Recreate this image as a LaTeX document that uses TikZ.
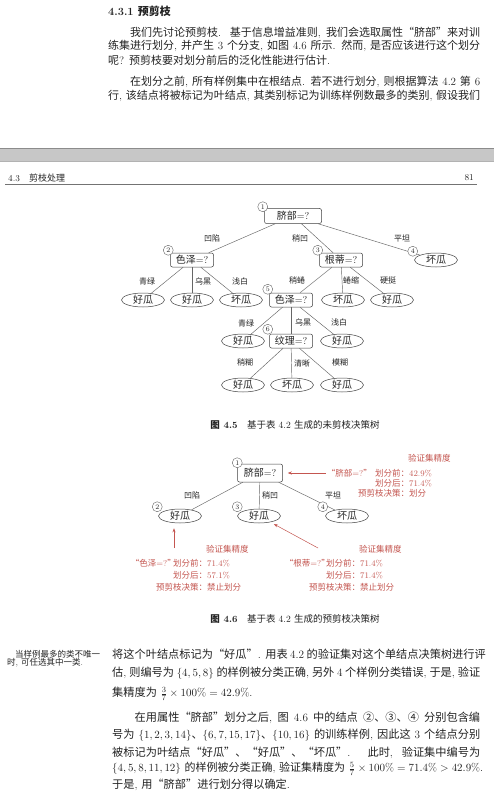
\documentclass[tikz,border=0pt]{standalone}
\usepackage{fontspec}
\usepackage{amsmath}
\usetikzlibrary{positioning}
\usetikzlibrary{shapes.geometric}
\usetikzlibrary{arrows.meta}
\usetikzlibrary{calc}

\newfontfamily\cjk{Noto Sans CJK SC}
% Chinese runs switch to the CJK font on their own
\XeTeXinterchartokenstate=1
\XeTeXlinebreaklocale "zh"
\XeTeXlinebreakskip=0pt plus 0.6pt minus 0.2pt
\newXeTeXintercharclass\cjkcls
\newcount\cjkc
\cjkc="4E00\relax
\loop\XeTeXcharclass\cjkc=\cjkcls\relax\ifnum\cjkc<"9FFF\relax\advance\cjkc by 1\relax\repeat
\cjkc="3000\relax
\loop\XeTeXcharclass\cjkc=\cjkcls\relax\ifnum\cjkc<"303F\relax\advance\cjkc by 1\relax\repeat
\cjkc="FF00\relax
\loop\XeTeXcharclass\cjkc=\cjkcls\relax\ifnum\cjkc<"FFEF\relax\advance\cjkc by 1\relax\repeat
\cjkc="2460\relax
\loop\XeTeXcharclass\cjkc=\cjkcls\relax\ifnum\cjkc<"2473\relax\advance\cjkc by 1\relax\repeat
\XeTeXcharclass"201C=\cjkcls
\XeTeXcharclass"201D=\cjkcls
\XeTeXinterchartoks 0 \cjkcls={\begingroup\cjk}
\XeTeXinterchartoks 4095 \cjkcls={\begingroup\cjk}
\XeTeXinterchartoks \cjkcls 0={\endgroup}
\XeTeXinterchartoks \cjkcls 4095={\endgroup}

\definecolor{ink}{RGB}{35,35,35}
\definecolor{notered}{RGB}{196,86,80}
\newcommand\jline[2]{\hbox to #1pt{#2}}
\newcommand\notelbl[1]{\makebox[51pt][r]{#1}}

\tikzset{
  body/.style={inner sep=0pt, font=\fontsize{11}{13}\selectfont},
  lowbody/.style={inner sep=0pt, font=\fontsize{11.2}{13}\selectfont},
  figcap/.style={inner sep=0pt, font=\fontsize{9.5}{11}\selectfont},
  test/.style={draw=black!75, rounded corners=2pt, line width=0.5pt, inner sep=1pt,
    minimum width=43pt, minimum height=14pt, font=\fontsize{10}{12}\selectfont},
  leaf/.style={ellipse, draw=black!75, line width=0.5pt, inner sep=0pt,
    minimum width=43pt, minimum height=14pt, font=\fontsize{10}{12}\selectfont},
  num/.style={circle, draw=black!60, fill=white, inner sep=0pt, minimum size=10pt,
    font=\fontsize{7}{8}\selectfont},
  branch/.style={draw=black!60, line width=0.45pt},
  lbl/.style={inner sep=0pt, font=\fontsize{8}{9}\selectfont},
  note/.style={text=notered, inner sep=0pt, font=\fontsize{8.5}{10}\selectfont},
  hint/.style={draw=notered, line width=0.5pt, -{Stealth[length=4pt,width=3pt]}},
}

\begin{document}
\begin{tikzpicture}[x=1pt, y=-1pt, every node/.style={text=ink}]
  \fill[white] (0,0) rectangle (494,810);
  \useasboundingbox (0,0) rectangle (494,810);

  % upper page
  \node[body, anchor=west] (head) at (108,11) {\bfseries 4.3.1\ 预剪枝};
  \node[body, anchor=west] (t1) at (130,33) {\jline{350}{我们先讨论预剪枝. 基于信息增益准则, 我们会选取属性“脐部”来对训}};
  \node[body, anchor=west] (t2) at (108,46) {\jline{372}{练集进行划分, 并产生 3 个分支, 如图 4.6 所示. 然而, 是否应该进行这个划分}};
  \node[body, anchor=west] (t3) at (108,60) {呢? 预剪枝要对划分前后的泛化性能进行估计.};
  \node[body, anchor=west] (t4) at (130,82) {\jline{350}{在划分之前, 所有样例集中在根结点. 若不进行划分, 则根据算法 4.2 第 6}};
  \node[body, anchor=west] (t5) at (108,96) {\jline{372}{行, 该结点将被标记为叶结点, 其类别标记为训练样例数最多的类别, 假设我们}};

  % gap between the pages
  \fill[black!22] (0,148) rectangle (494,162);
  \draw[black!45, line width=1pt] (0,148.5) -- (494,148.5);
  \draw[black!30, line width=0.6pt] (0,161.5) -- (494,161.5);

  % running head
  \node[inner sep=0pt, anchor=west, font=\fontsize{9}{10}\selectfont] (rh) at (8,178) {4.3\quad 剪枝处理};
  \node[inner sep=0pt, anchor=east, font=\fontsize{9}{10}\selectfont] (pg) at (474,178) {81};
  \draw[black!55, line width=0.6pt] (5,184) -- (477,184);

  % unpruned tree
  \node[test, minimum width=57pt, minimum height=15pt] (r1) at (293,216) {脐部=?};
  \node[test] (n2) at (192,260) {色泽=?};
  \node[test] (n3) at (341,260) {根蒂=?};
  \node[leaf] (n4) at (436,260) {坏瓜};
  \node[leaf] (l1) at (143,300) {好瓜};
  \node[leaf] (l2) at (192,300) {好瓜};
  \node[leaf] (l3) at (241,300) {坏瓜};
  \node[test] (n5) at (291,300) {色泽=?};
  \node[leaf] (l4) at (343,300) {坏瓜};
  \node[leaf] (l5) at (392,300) {好瓜};
  \node[leaf] (l6) at (243,341) {好瓜};
  \node[test] (n6) at (291,341) {纹理=?};
  \node[leaf] (l7) at (342,341) {好瓜};
  \node[leaf] (l8) at (243,385) {好瓜};
  \node[leaf] (l9) at (292,385) {坏瓜};
  \node[leaf] (l10) at (342,385) {好瓜};

  \foreach \a/\b in {r1/n2, r1/n3, r1/n4, n2/l1, n2/l2, n2/l3, n3/n5, n3/l4, n3/l5,
                     n5/l6, n5/n6, n5/l7, n6/l8, n6/l9, n6/l10}
    \draw[branch] (\a) -- (\b);

  \foreach \x/\y/\t [count=\i] in {212/238/凹陷, 300/238/稍凹, 402/238/平坦,
      147/281/青绿, 203/281/乌黑, 240/281/浅白, 297/280/稍蜷, 351/280/蜷缩, 388/280/硬挺,
      246/323/青绿, 303/322/乌黑, 339/322/浅白, 245/363/稍糊, 302/363/清晰, 340/363/模糊}
    \node[lbl] (b\i) at (\x,\y) {\t};

  \node[num] (c1) at ($(r1.west |- r1.north)+(-1.5,-1.5)$) {1};
  \node[num] (c2) at ($(n2.west |- n2.north)+(-2,-2.5)$) {2};
  \node[num] (c3) at ($(n3.west |- n3.north)+(-1.5,-2.5)$) {3};
  \node[num] (c4) at ($(n4.west |- n4.north)+(-1.5,-1.5)$) {4};
  \node[num] (c5) at ($(n5.west |- n5.north)+(-1.5,-3.5)$) {5};
  \node[num] (c6) at ($(n6.west |- n6.north)+(-1.5,-4.5)$) {6};

  \node[figcap] (cap1) at (295,425) {\textbf{图 4.5}\quad 基于表 4.2 生成的未剪枝决策树};

  % pre-pruned tree
  \node[test, minimum width=45pt, minimum height=18pt] (r2) at (260,473) {脐部=?};
  \node[leaf] (m2) at (180,516) {好瓜};
  \node[leaf] (m3) at (259,516) {好瓜};
  \node[leaf] (m4) at (347,516) {坏瓜};
  \foreach \b in {m2, m3, m4}
    \draw[branch] (r2) -- (\b);
  \node[lbl] (d1) at (192,495) {凹陷};
  \node[lbl] (d2) at (270,495) {稍凹};
  \node[lbl] (d3) at (333,495) {平坦};

  \node[num] (e1) at ($(r2.west |- r2.north)+(0,-1)$) {1};
  \node[num] (e2) at ($(m2.west |- m2.north)+(-1,-2)$) {2};
  \node[num] (e3) at ($(m3.west |- m3.north)+(0,-2)$) {3};
  \node[num] (e4) at ($(m4.west |- m4.north)+(-2.5,-2)$) {4};

  % validation notes
  \node[note, anchor=west] (acc1) at (408,458) {验证集精度};
  \node[note, anchor=north west, align=left] (tab1) at (358,469)
    {\notelbl{划分前：}42.9\%\\\notelbl{划分后：}71.4\%\\\notelbl{预剪枝决策：}划分};
  \node[note, anchor=east] (q1) at (372,473) {“脐部=?”};
  \draw[hint, shorten <=1pt, shorten >=5pt] (q1.west) -- (r2.east);

  \node[note, anchor=west] (acc2) at (206,549) {验证集精度};
  \node[note, anchor=north west, align=left, font=\fontsize{8.5}{12}\selectfont] (tab2) at (156,559)
    {\notelbl{划分前：}71.4\%\\\notelbl{划分后：}57.1\%\\\notelbl{预剪枝决策：}禁止划分};
  \node[note, anchor=east] (q2) at (176,563) {“色泽=?”};
  \coordinate (s2) at (174,548);
  \draw[hint, shorten >=5pt] (s2) -- (s2 |- m2.south);

  \node[note, anchor=west] (acc3) at (359,549) {验证集精度};
  \node[note, anchor=north west, align=left, font=\fontsize{8.5}{12}\selectfont] (tab3) at (309,559)
    {\notelbl{划分前：}71.4\%\\\notelbl{划分后：}71.4\%\\\notelbl{预剪枝决策：}禁止划分};
  \node[note, anchor=east] (q3) at (330,563) {“根蒂=?”};
  \coordinate (s3) at (318,548);
  \draw[hint, shorten >=4pt] (s3) -- (m3);

  \node[figcap] (cap2) at (295,619) {\textbf{图 4.6}\quad 基于表 4.2 生成的预剪枝决策树};

  % margin note
  \node[inner sep=0pt, anchor=west, font=\fontsize{8.5}{10}\selectfont] (mn1) at (15,654) {当样例最多的类不唯一};
  \node[inner sep=0pt, anchor=west, font=\fontsize{8.5}{10}\selectfont] (mn2) at (7,663) {时, 可任选其中一类.};

  % lower page text
  \node[lowbody, anchor=west] (u1) at (112,654) {\jline{368}{将这个叶结点标记为“好瓜”. 用表 4.2 的验证集对这个单结点决策树进行评}};
  \node[lowbody, anchor=west] (u2) at (112,673) {\jline{368}{估, 则编号为 $\{4,5,8\}$ 的样例被分类正确, 另外 4 个样例分类错误, 于是, 验证}};
  \node[lowbody, anchor=west] (u3) at (112,694) {集精度为\ $\tfrac{3}{7}\times 100\% = 42.9\%$.};
  \node[lowbody, anchor=west] (u4) at (134.5,718) {\jline{345.5}{在用属性“脐部”划分之后, 图 4.6 中的结点 ②、③、④ 分别包含编}};
  \node[lowbody, anchor=west] (u5) at (112,735) {\jline{368}{号为 $\{1,2,3,14\}$、$\{6,7,15,17\}$、$\{10,16\}$ 的训练样例, 因此这 3 个结点分别}};
  \node[lowbody, anchor=west] (u6) at (112,753) {\jline{368}{被标记为叶结点“好瓜”、“好瓜”、“坏瓜”. 此时, 验证集中编号为}};
  \node[lowbody, anchor=west, font=\fontsize{11}{13}\selectfont] (u7) at (112,769) {$\{4,5,8,11,12\}$ 的样例被分类正确, 验证集精度为\ $\tfrac{5}{7}\times 100\% = 71.4\% > 42.9\%$.};
  \node[lowbody, anchor=west] (u8) at (112,785) {于是, 用“脐部”进行划分得以确定.};
\end{tikzpicture}
\end{document}
